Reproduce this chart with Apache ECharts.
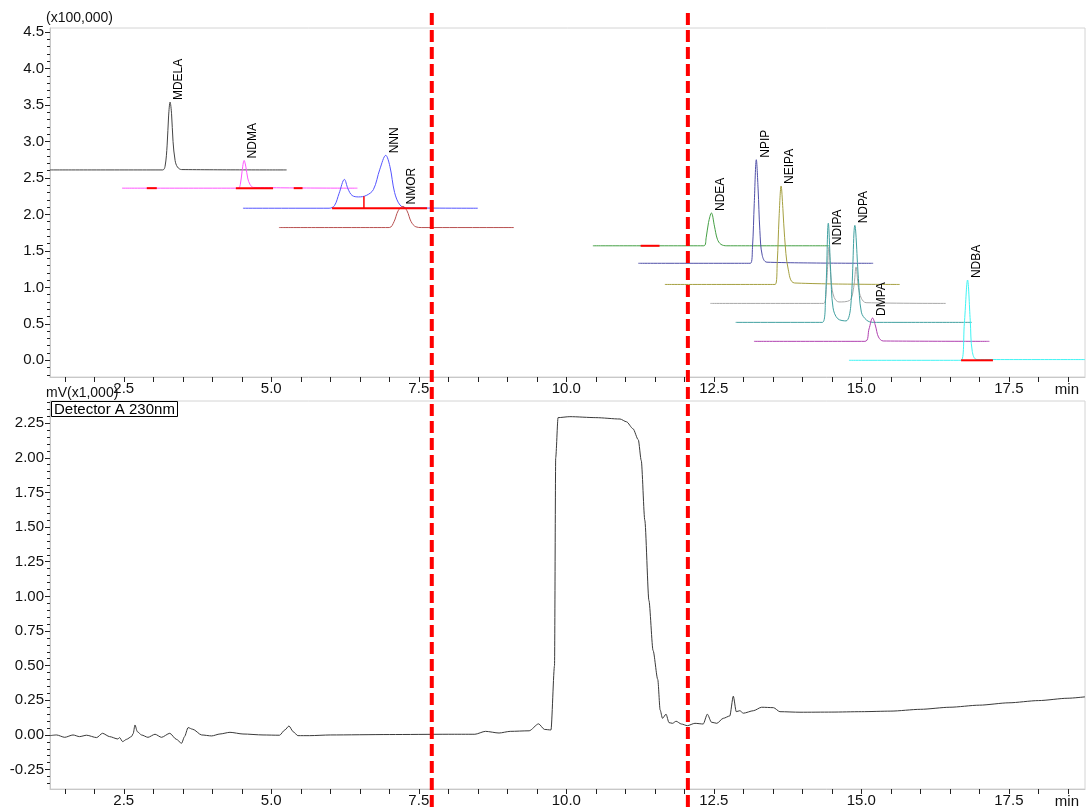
<!DOCTYPE html>
<html>
<head>
<meta charset="utf-8">
<title>Chromatogram</title>
<script src="https://cdn.jsdelivr.net/npm/echarts@6.0.0/dist/echarts.min.js"></script>
<style>
  html, body { margin: 0; padding: 0; background: #fff; }
  #chart { width: 1087px; height: 812px; }
</style>
</head>
<body>
<div id="chart"></div>
<script>
// time axis (min)
const xMin = 1.25, xMax = 18.79;
const xLabelVals = [2.5, 5.0, 7.5, 10.0, 12.5, 15.0, 17.5];

// upper panel: MS traces, x100,000
const yTopMin = -0.229, yTopMax = 4.556;
const yTopLabels = [0, 0.5, 1.0, 1.5, 2.0, 2.5, 3.0, 3.5, 4.0, 4.5];

// lower panel: UV detector, mV x1,000
const yBotMin = -0.39, yBotMax = 2.41;
const yBotLabels = [-0.25, 0, 0.25, 0.5, 0.75, 1.0, 1.25, 1.5, 1.75, 2.0, 2.25];

const traceMDELA = [[1.25,2.61],[3.16,2.61],[3.20,2.66],[3.235,2.95],[3.26,3.35],[3.285,3.54],[3.31,3.38],[3.335,3.00],[3.37,2.74],[3.41,2.65],[3.48,2.615],[5.26,2.61]];
const traceNDMA = [[2.47,2.36],[4.44,2.36],[4.475,2.41],[4.505,2.59],[4.54,2.74],[4.57,2.65],[4.60,2.50],[4.64,2.41],[4.70,2.37],[6.46,2.36]];
const traceNNN = [[4.52,2.085],[5.98,2.085],[6.07,2.12],[6.15,2.29],[6.24,2.48],[6.30,2.35],[6.37,2.26],[6.48,2.24],[6.61,2.26],[6.73,2.34],[6.84,2.62],[6.94,2.81],[7.01,2.66],[7.09,2.30],[7.18,2.13],[7.29,2.09],[8.50,2.085]];
const traceNMOR = [[5.13,1.82],[7.0,1.82],[7.08,1.90],[7.15,2.05],[7.23,2.11],[7.30,2.05],[7.37,1.90],[7.45,1.83],[7.55,1.82],[9.11,1.82]];
const traceNDEA = [[10.45,1.57],[12.33,1.57],[12.37,1.68],[12.41,1.89],[12.46,2.02],[12.51,1.84],[12.56,1.66],[12.62,1.59],[12.72,1.57],[14.45,1.57]];
const traceNPIP = [[11.22,1.33],[13.12,1.33],[13.155,1.55],[13.185,2.15],[13.22,2.75],[13.25,2.35],[13.28,1.78],[13.32,1.44],[13.40,1.345],[15.2,1.33]];
const traceNEIPA = [[11.67,1.04],[13.54,1.04],[13.575,1.35],[13.605,1.95],[13.64,2.39],[13.67,2.08],[13.70,1.68],[13.76,1.25],[13.87,1.06],[15.65,1.04]];
const traceNDIPA = [[12.44,0.78],[14.36,0.78],[14.41,1.05],[14.45,1.55],[14.49,1.07],[14.54,0.86],[14.62,0.80],[14.80,0.82],[14.87,1.0],[14.91,1.28],[14.95,1.0],[15.0,0.85],[15.08,0.79],[16.43,0.78]];
const traceNDPA = [[12.87,0.52],[14.34,0.52],[14.395,0.90],[14.44,1.88],[14.48,1.22],[14.52,0.72],[14.60,0.57],[14.74,0.54],[14.82,0.74],[14.89,1.85],[14.95,1.12],[15.0,0.66],[15.09,0.55],[15.2,0.52],[16.87,0.52]];
const traceDMPA = [[13.18,0.26],[15.06,0.26],[15.13,0.43],[15.19,0.58],[15.24,0.47],[15.29,0.32],[15.37,0.265],[17.17,0.26]];
const traceNDBA = [[14.79,0.0],[16.69,0.0],[16.745,0.50],[16.80,1.10],[16.845,0.55],[16.88,0.12],[16.96,0.01],[18.79,0.01]];

// integration baselines [start, end, level]
const integrationMarks = [[2.89,3.06,2.36],[4.40,5.03,2.36],[5.38,5.53,2.36],[6.03,7.64,2.085],[11.26,11.58,1.57],[16.69,17.23,0]];
// perpendicular drop [time, from, to]
const dropLines = [[6.57,2.085,2.25]];

// peak labels
const peakNames = ['MDELA','NDMA','NNN','NMOR','NDEA','NPIP','NEIPA','NDIPA','NDPA','DMPA','NDBA'];
const peakTimes = [3.285,4.54,6.94,7.23,12.46,13.22,13.64,14.45,14.89,15.19,16.80];
const peakHeights = [3.54,2.74,2.81,2.11,2.02,2.75,2.39,1.55,1.85,0.58,1.10];

// cut window markers
const cutTimes = [7.72, 12.06];

const detectorA = [
  [1.25,-0.005],[1.36,0.0],[1.50,-0.017],[1.64,0.0],[1.75,-0.012],[1.87,-0.002],[2.04,-0.019],[2.14,0.012],
  [2.26,-0.012],[2.40,-0.029],[2.43,-0.019],[2.48,-0.048],[2.55,-0.031],[2.63,-0.012],[2.66,0.01],[2.69,0.072],
  [2.73,0.024],[2.80,0.0],[2.91,-0.017],[3.03,0.005],[3.14,-0.017],[3.28,0.012],[3.39,-0.031],[3.48,-0.06],
  [3.53,-0.012],[3.59,0.053],[3.67,0.041],[3.82,0.0],[3.99,-0.007],[4.13,0.007],[4.30,0.019],[4.52,0.007],
  [4.86,0.0],[5.14,-0.002],[5.23,0.036],[5.30,0.065],[5.37,0.024],[5.45,-0.005],[5.65,-0.005],[6.0,0.0],
  [7.0,0.003],[8.0,0.005],[8.45,0.005],[8.63,0.026],[8.86,0.014],[9.05,0.026],[9.37,0.03],[9.53,0.08],
  [9.63,0.04],[9.74,0.036],[9.80,0.5],[9.82,2.0],[9.86,2.29],[10.06,2.297],[10.5,2.29],[10.91,2.28],
  [11.02,2.26],[11.13,2.21],[11.22,2.13],[11.27,1.98],[11.33,1.55],[11.40,0.97],[11.47,0.61],[11.55,0.40],
  [11.59,0.18],[11.63,0.12],[11.69,0.15],[11.74,0.089],[11.80,0.084],[11.86,0.099],[11.95,0.079],[12.05,0.067],
  [12.18,0.084],[12.32,0.079],[12.39,0.15],[12.46,0.092],[12.55,0.084],[12.66,0.12],[12.77,0.137],[12.83,0.28],
  [12.88,0.168],[12.94,0.175],[13.0,0.157],[13.17,0.175],[13.31,0.20],[13.51,0.197],[13.62,0.168],[13.96,0.164],
  [14.5,0.165],[15.0,0.168],[15.5,0.172],[16.0,0.185],[16.5,0.20],[17.0,0.215],[17.5,0.232],[18.0,0.248],
  [18.5,0.265],[18.79,0.275]
];

const FONT = '"Liberation Sans", Arial, sans-serif';

function steps(from, to, step){
    let out = [];
    for(let v = from; v <= to + 1e-9; v += step) out.push(Math.round(v*1000)/1000);
    return out;
}

const xTickVals = steps(1.5, 18.5, 0.5);
const yTopMinor = steps(-0.2, 4.5, 0.1);
const yBotMinor = steps(-0.35, 2.4, 0.05);

function xAxisFor(grid){
    return {
        type: 'value', gridIndex: grid, min: xMin, max: xMax,
        axisLine: {show: true, onZero: false, lineStyle: {color: '#c8c8c8'}},
        axisTick: {show: true, customValues: xTickVals, length: 5, lineStyle: {color: '#222'}},
        axisLabel: {customValues: xLabelVals, formatter: v => v.toFixed(1), color: '#111', fontSize: 15, fontFamily: FONT, margin: 4},
        splitLine: {show: false},
        name: 'min', nameLocation: 'end', nameGap: -6,
        nameTextStyle: {align: 'right', verticalAlign: 'top', padding: [5, 0, 0, 0], color: '#111', fontSize: 15, fontFamily: FONT}
    };
}

function yAxisFor(grid, min, max, labels, digits, name){
    return {
        type: 'value', gridIndex: grid, min: min, max: max, position: 'left',
        axisLine: {show: true, lineStyle: {color: '#c8c8c8'}},
        axisTick: {show: true, customValues: labels, length: 5, lineStyle: {color: '#222'}},
        axisLabel: {customValues: labels, formatter: v => v.toFixed(digits), color: '#111', fontSize: 15, fontFamily: FONT, margin: 6},
        splitLine: {show: false},
        name: name, nameLocation: 'end', nameGap: 1,
        nameTextStyle: {align: 'left', color: '#111', fontSize: 14, fontFamily: FONT, padding: [0, 0, 0, -4]}
    };
}

function minorAxisFor(grid, min, max, ticks){
    return {
        type: 'value', gridIndex: grid, min: min, max: max, position: 'left', offset: 0,
        axisLine: {show: false},
        axisTick: {show: true, customValues: ticks, length: 3, lineStyle: {color: '#222'}},
        axisLabel: {show: false},
        splitLine: {show: false}
    };
}

const traces = [
    {data: traceMDELA, color: '#444444'},
    {data: traceNDMA, color: '#ff55ff'},
    {data: traceNNN, color: '#5555ff'},
    {data: traceNMOR, color: '#b85050'},
    {data: traceNDEA, color: '#45a045'},
    {data: traceNPIP, color: '#5050a8'},
    {data: traceNEIPA, color: '#a5a040'},
    {data: traceNDIPA, color: '#a8a8a8'},
    {data: traceNDPA, color: '#40a0a0'},
    {data: traceDMPA, color: '#b040b0'},
    {data: traceNDBA, color: '#40f4f4'}
];

let series = traces.map(tr => ({
    type: 'line', xAxisIndex: 0, yAxisIndex: 0, data: tr.data,
    showSymbol: false, smooth: 0.35,
    lineStyle: {color: tr.color, width: 1}, z: 3
}));

integrationMarks.forEach(m => {
    series.push({
        type: 'line', xAxisIndex: 0, yAxisIndex: 0, data: [[m[0], m[2]], [m[1], m[2]]],
        showSymbol: false, lineStyle: {color: '#ff0000', width: 2}, z: 4
    });
});
dropLines.forEach(d => {
    series.push({
        type: 'line', xAxisIndex: 0, yAxisIndex: 0, data: [[d[0], d[1]], [d[0], d[2]]],
        showSymbol: false, lineStyle: {color: '#ff0000', width: 1.5}, z: 4
    });
});

series.push({
    type: 'line', xAxisIndex: 1, yAxisIndex: 2, data: detectorA,
    showSymbol: false, smooth: 0.25, smoothMonotone: 'x',
    lineStyle: {color: '#3a3a3a', width: 1}, z: 3
});

const option = {
    animation: false,
    backgroundColor: '#ffffff',
    title: {
        text: 'Detector A 230nm', left: 51, top: 401,
        padding: [1, 3, 0, 3], borderColor: '#000', borderWidth: 1,
        textStyle: {fontSize: 15, fontWeight: 'normal', color: '#000', fontFamily: FONT, lineHeight: 15}
    },
    grid: [
        {left: 50, top: 28, right: 2, height: 349, show: true, borderColor: '#d4d4d4', borderWidth: 1},
        {left: 50, top: 401, right: 2, height: 388, show: true, borderColor: '#d4d4d4', borderWidth: 1}
    ],
    xAxis: [xAxisFor(0), xAxisFor(1)],
    yAxis: [
        yAxisFor(0, yTopMin, yTopMax, yTopLabels, 1, '(x100,000)'),
        minorAxisFor(0, yTopMin, yTopMax, yTopMinor),
        yAxisFor(1, yBotMin, yBotMax, yBotLabels, 2, 'mV(x1,000)'),
        minorAxisFor(1, yBotMin, yBotMax, yBotMinor)
    ],
    series: series
};

const chart = echarts.init(document.getElementById('chart'));
chart.setOption(option);

// peak names and the red cut markers, placed through the axis scales
let graphics = peakNames.map((name, i) => {
    const p = chart.convertToPixel({seriesIndex: 0}, [peakTimes[i], peakHeights[i]]);
    return {
        type: 'text', x: p[0] + 3, y: p[1] - 2, rotation: Math.PI / 2, z: 50,
        style: {text: name, fill: '#000', font: '12px ' + FONT,
                align: 'left', verticalAlign: 'top', textAlign: 'left', textVerticalAlign: 'top'}
    };
});
cutTimes.forEach(t => {
    const px = chart.convertToPixel({xAxisIndex: 1}, t);
    graphics.push({
        type: 'line', z: 60,
        shape: {x1: px, y1: 13, x2: px, y2: 812},
        style: {stroke: '#ff0000', lineWidth: 4, lineDash: [12, 5]}
    });
});
chart.setOption({graphic: graphics});
</script>
</body>
</html>
